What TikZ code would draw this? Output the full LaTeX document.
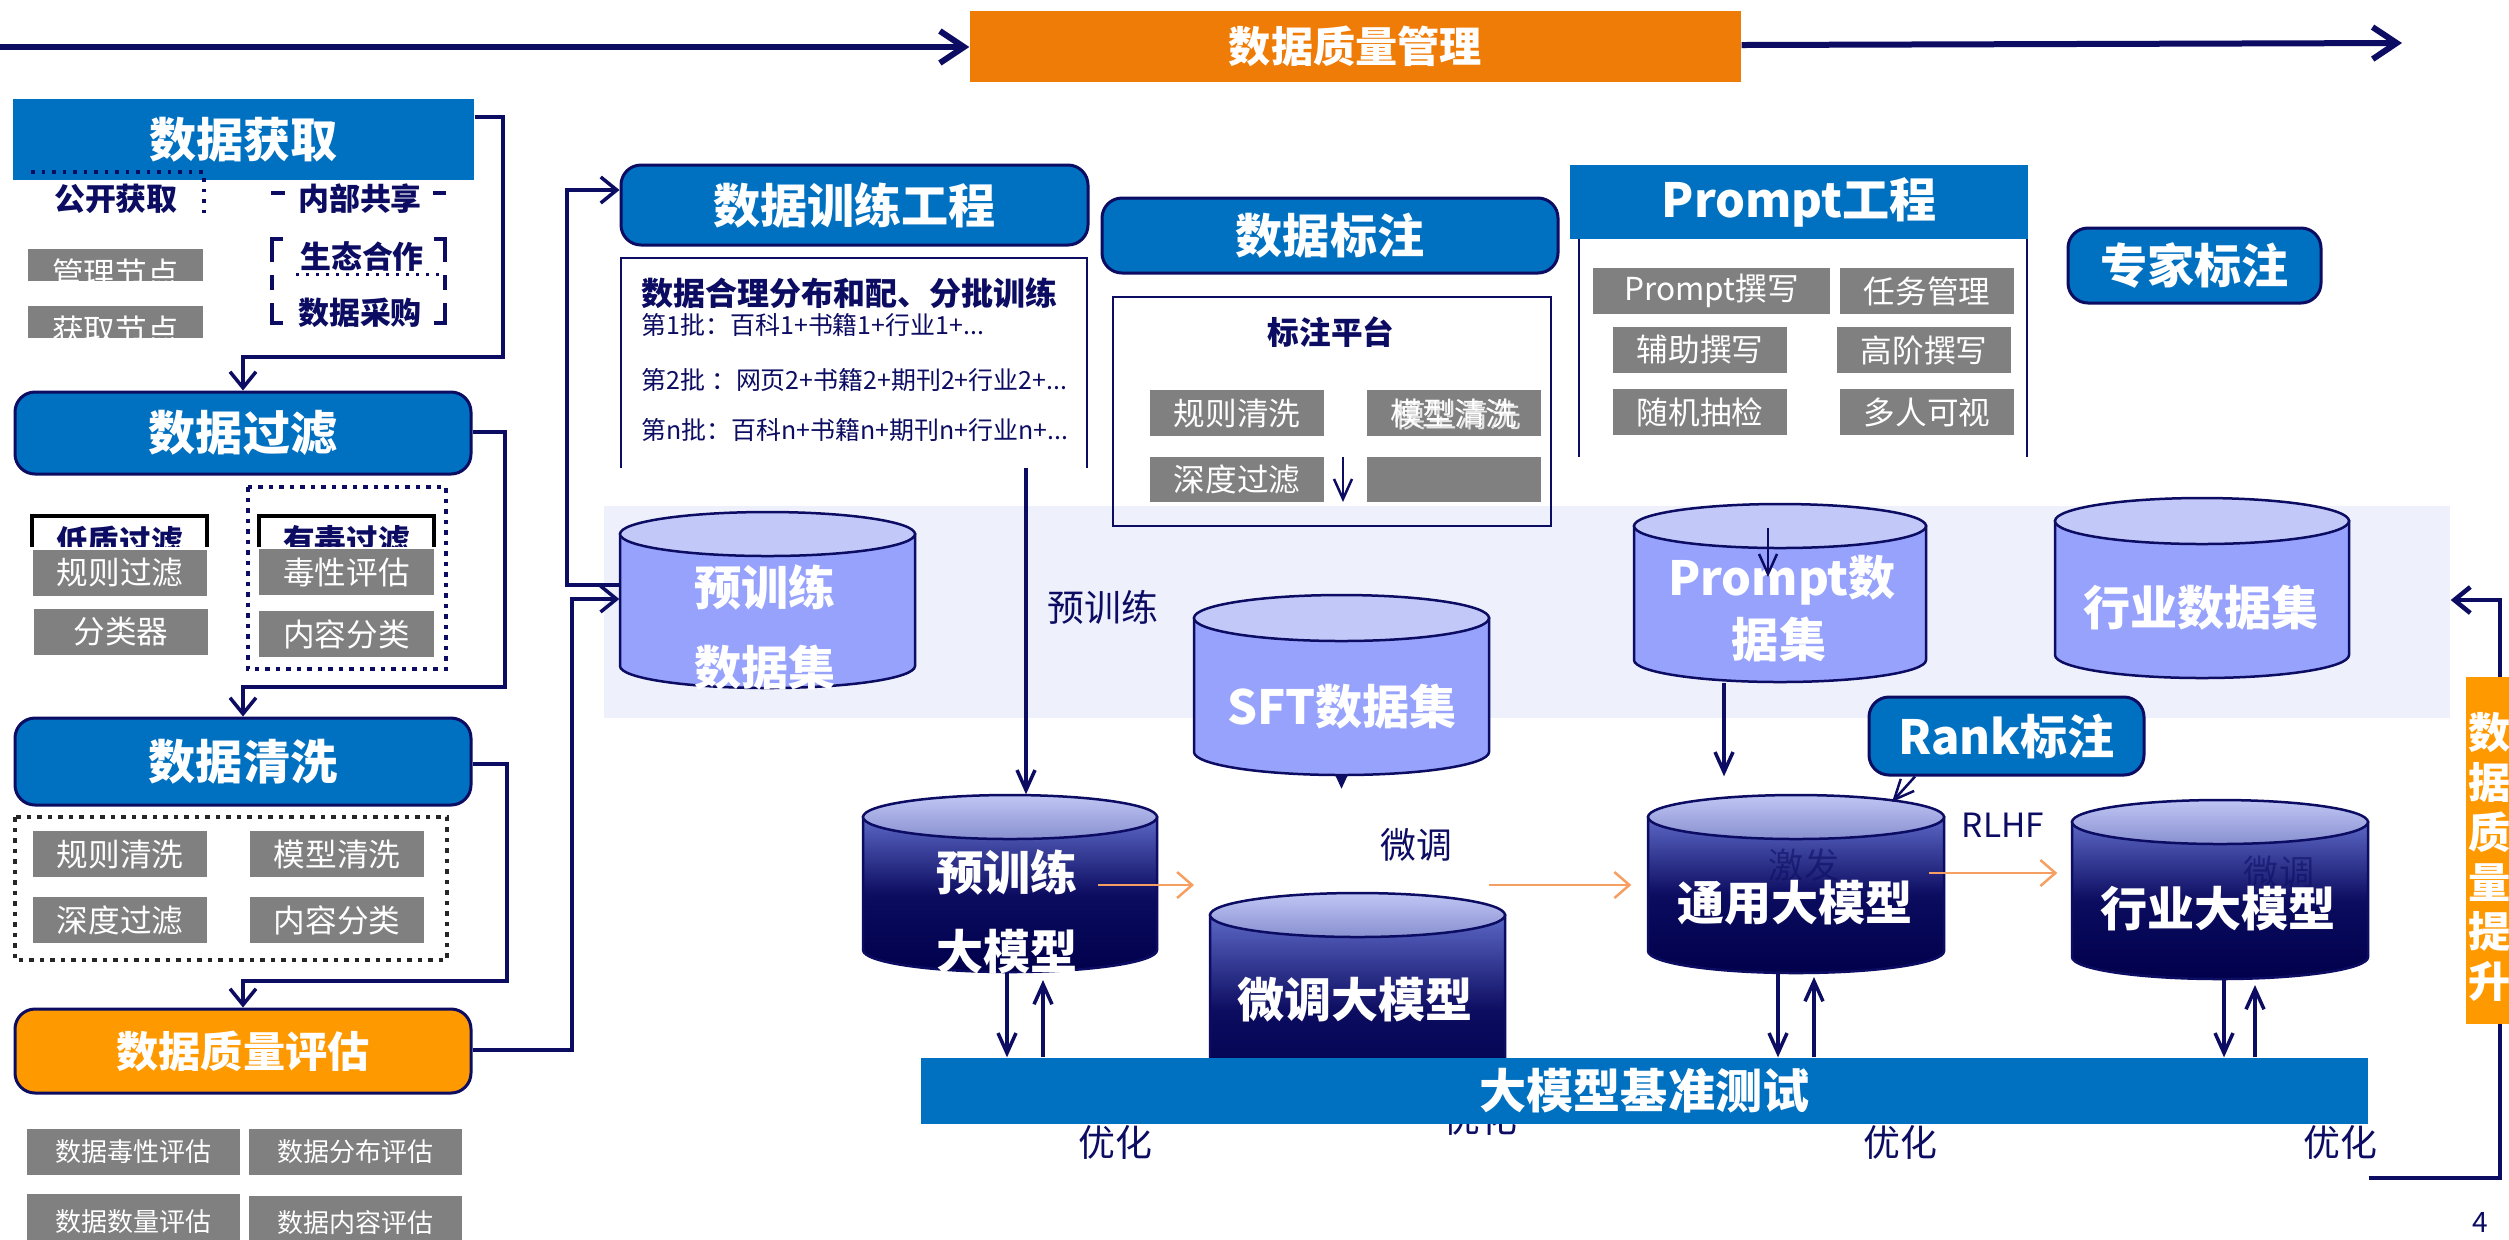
\documentclass[tikz,border=0pt]{standalone}
\usepackage{fontspec}
\setmainfont{Noto Sans CJK SC}
\usetikzlibrary{arrows.meta,fit}
\newcommand{\myfs}[1]{\fontsize{#1}{#1}\selectfont}
\definecolor{bluebox}{HTML}{0070C0}
\definecolor{lnavy}{HTML}{0C0C62}
\definecolor{orgA}{HTML}{F07C08}
\definecolor{orgB}{HTML}{FF9900}
\definecolor{grayb}{HTML}{808080}
\definecolor{bandc}{HTML}{EEF0FC}
\definecolor{cylbody}{HTML}{96A2FC}
\definecolor{cyltop}{HTML}{C2C8F8}
\definecolor{dctop}{HTML}{5C68C6}
\definecolor{dcmid}{HTML}{0C0C60}
\definecolor{dcbot}{HTML}{00004C}
\definecolor{dcellA}{HTML}{C0C6F4}
\definecolor{dcellB}{HTML}{8890D0}
\definecolor{orarr}{HTML}{F5A062}
\newcommand{\cylinderat}[8]{%
  \path[#7] (#2-#3,#4) -- (#2-#3,#5) arc[start angle=180, end angle=360, x radius=#3*0.1mm, y radius=#6*0.1mm] -- (#2+#3,#4) -- cycle;
  \path[#8] (#2,#4) ellipse [x radius=#3*0.1mm, y radius=#6*0.1mm];
  \node[fit={(#2-#3,#4-#6) (#2+#3,#5+#6)}, inner sep=0pt] (#1) {};
}
\begin{document}
\begin{tikzpicture}[x=0.1mm, y=-0.1mm,
  hd/.style={fill=bluebox, inner sep=0pt},
  hdr/.style={hd, draw=lnavy, line width=0.3mm, rounded corners=2mm},
  hl/.style={label={[text=white, font=\bfseries\myfs{13.4pt}, inner sep=0pt]center:#1}},
  ol/.style={label={[text=white, font=\bfseries\myfs{12pt}, inner sep=0pt]center:#1}},
  gbox/.style={fill=grayb, inner sep=0pt},
  gl/.style={label={[text=white, font=\myfs{9pt}, inner sep=0pt]center:#1}},
  gsl/.style={label={[text=white, font=\myfs{7.4pt}, inner sep=0pt]center:#1}},
  bl/.style={label={[text=lnavy, font=\bfseries\myfs{9pt}, inner sep=0pt]center:#1}},
  lbl/.style={text=lnavy, inner sep=0pt},
  conn/.style={draw=lnavy, line width=0.35mm},
  tipA/.style={-{Straight Barb[length=1.6mm,width=2.6mm]}},
  tipC/.style={-{Straight Barb[length=2mm,width=1.8mm]}},
  thinl/.style={draw=lnavy, line width=0.25mm},
  oarr/.style={draw=orarr, line width=0.25mm, -{Straight Barb[length=1.5mm,width=2.6mm]}},
  dotbox/.style={line width=0.45mm, dash pattern=on 0.45mm off 0.6mm},
  lightbody/.style={fill=cylbody, draw=lnavy, line width=0.25mm},
  lighttop/.style={fill=cyltop, draw=lnavy, line width=0.25mm},
  darkbody/.style={top color=dctop, bottom color=dcbot, middle color=dcmid, draw=lnavy, line width=0.25mm},
  darktop/.style={top color=dcellA, bottom color=dcellB, draw=lnavy, line width=0.25mm},
  cyltxt/.style={text=white, font=\bfseries\myfs{13.4pt}, inner sep=0pt},
  faint/.style={text=lnavy, opacity=0.55, font=\myfs{10pt}, inner sep=0pt},
]
\fill[white] (0,0) rectangle (2509,1239);
\useasboundingbox (0,0) rectangle (2509,1239);

% band
\node[fill=bandc, inner sep=0pt, fit={(604,506) (2450,718)}] (band) {};

% top
\node[fill=orgA, inner sep=0pt, fit={(970,11) (1741,82)}, ol={\raisebox{-0.6mm}{数据质量管理}}] (dqm) {};
\coordinate (tstart) at (0,47);
\coordinate (tend) at (2402,43);
\draw[conn, line width=0.6mm, -{Straight Barb[length=2.4mm,width=3.2mm]}] (tstart) -- (dqm.west |- tstart);
\draw[conn, line width=0.6mm, -{Straight Barb[length=2.4mm,width=3.2mm]}] (dqm.east |- 0,45) -- (tend);

% data acquisition
\node[hd, fit={(13,99) (474,180)}, hl={\raisebox{-0.35mm}{数据获取}}] (acq) {};
\draw[lnavy, line width=0.35mm, dotted] (31,172) -- (204,172) -- (204,218);
\node[lbl, font=\bfseries\myfs{8.8pt}] (pub) at (116,199) {公开获取};
\node[lbl, font=\bfseries\myfs{8.8pt}] (share) at (360,199) {内部共享};
\draw[lnavy, line width=0.35mm] (271,193) -- (285,193) (433,193) -- (446,193);
\draw[lnavy, line width=0.35mm] (272,262) -- (272,239) -- (283,239) (434,239) -- (445,239) -- (445,262)
  (272,275) -- (272,290) (445,275) -- (445,290)
  (272,303) -- (272,323) -- (283,323) (434,323) -- (445,323) -- (445,303);
\node[lbl, font=\bfseries\myfs{8.8pt}] (eco) at (362,257) {生态合作};
\draw[lnavy, line width=0.3mm, dotted] (296,274) -- (440,274);
\node[lbl, font=\bfseries\myfs{8.8pt}] (buy) at (360,313) {数据采购};
\begin{scope}
\clip (28,249) rectangle (203,280);
\node[gbox, fit={(28,249) (203,297)}, gl=管理节点] (mgr) {};
\end{scope}
\begin{scope}
\clip (28,306) rectangle (203,337);
\node[gbox, fit={(28,306) (203,354)}, gl=获取节点] (getn) {};
\end{scope}

% filter
\node[hdr, fit={(15,392) (471,474)}, hl={\raisebox{-0.5mm}{数据过滤}}] (filt) {};
\draw[conn, tipA] (acq.east |- 0,117) -- (503,117) -- (503,357) -| (filt.north);
\begin{scope}
\clip (25,510) rectangle (215,546);
\node[draw=black, line width=0.35mm, inner sep=0pt, fit={(32,516) (207,566)}, bl=低质过滤] (lowq) {};
\end{scope}
\begin{scope}
\clip (250,510) rectangle (440,546);
\node[draw=black, line width=0.35mm, inner sep=0pt, fit={(259,516) (434,566)}, bl=有毒过滤] (toxq) {};
\end{scope}
\node[gbox, fit={(33,550) (207,596)}, gl=规则过滤] (f1) {};
\node[gbox, fit={(34,609) (208,655)}, gl=分类器] (f2) {};
\node[gbox, fit={(259,549) (434,595)}, gl=毒性评估] (f3) {};
\node[gbox, fit={(259,611) (434,657)}, gl=内容分类] (f4) {};
\draw[lnavy, dotbox] (248,487) rectangle (446,669);

% cleaning
\node[hdr, fit={(15,718) (471,805)}, hl={\raisebox{-0.8mm}{数据清洗}}] (clean) {};
\draw[conn, tipA] (filt.east |- 0,432) -- (505,432) -- (505,687) -| (clean.north);
\draw[black!85, dotbox] (15,817) rectangle (447,960);
\node[gbox, fit={(33,831) (207,877)}, gl=规则清洗] (c1) {};
\node[gbox, fit={(250,831) (424,877)}, gl=模型清洗] (c2) {};
\node[gbox, fit={(33,897) (207,943)}, gl=深度过滤] (c3) {};
\node[gbox, fit={(250,897) (424,943)}, gl=内容分类] (c4) {};

% quality evaluation
\node[hdr, fill=orgB, fit={(15,1009) (471,1093)}, ol={\raisebox{-0.5mm}{数据质量评估}}] (qeval) {};
\draw[conn, tipA] (clean.east |- 0,764) -- (507,764) -- (507,981) -| (qeval.north);
\node[gbox, fit={(27,1129) (240,1175)}, gsl=数据毒性评估] (e1) {};
\node[gbox, fit={(249,1129) (462,1175)}, gsl=数据分布评估] (e2) {};
\node[gbox, fit={(27,1194) (240,1250)}, gsl=数据数量评估] (e3) {};
\node[gbox, fit={(249,1196) (462,1250)}, gsl=数据内容评估] (e4) {};

% training engineering
\node[hdr, fit={(621,165) (1088,245)}, hl=数据训练工程] (train) {};
\draw[thinl] (621,468) -- (621,258) -- (1087,258) -- (1087,468);
\node[lbl, anchor=west, font=\bfseries\myfs{9.1pt}] (tt) at (641,293) {数据合理分布和配、分批训练};
\node[lbl, anchor=west, font=\myfs{7.1pt}] (b1) at (641,325) {第1批：百科1+书籍1+行业1+...};
\node[lbl, anchor=west, font=\myfs{7.1pt}] (b2) at (641,380) {第2批 ：网页2+书籍2+期刊2+行业2+...};
\node[lbl, anchor=west, font=\myfs{7.1pt}] (bn) at (641,430) {第n批：百科n+书籍n+期刊n+行业n+...};

% annotation
\node[hdr, fit={(1102,198) (1558,273)}, hl={\raisebox{-0.4mm}{数据标注}}] (anno) {};
\node[draw=lnavy, line width=0.25mm, inner sep=0pt, fit={(1113,297) (1551,526)}] (plat) {};
\node[lbl, font=\bfseries\myfs{9pt}] (platt) at (1331,332) {标注平台};
\node[gbox, fit={(1150,390) (1324,436)}, gl=规则清洗] (pa1) {};
\node[gbox, fit={(1367,390) (1541,436)}, gl=模型清洗] (pa2) {};
\node[text=white, font=\myfs{9pt}, inner sep=0pt, opacity=0.8] (pa2b) at ([xshift=0.35mm,yshift=-0.25mm]pa2.center) {模型清洗};
\node[gbox, fit={(1150,457) (1324,502)}, gl=深度过滤] (pa3) {};
\node[gbox, fit={(1367,457) (1541,502)}] (pa4) {};
\coordinate (sa1) at (1343,457);
\coordinate (sa2) at (1343,502);
\draw[thinl, tipC] (sa1) -- (sa2);

% prompt engineering
\node[hd, fit={(1570,165) (2028,239)}, hl=Prompt工程] (pe) {};
\draw[thinl] (1579,239) -- (1579,457) (2027,239) -- (2027,457);
\node[gbox, fit={(1593,268) (1830,314)}, gl=Prompt撰写] (p1) {};
\node[gbox, fit={(1840,268) (2014,314)}, gl=任务管理] (p2) {};
\node[gbox, fit={(1613,327) (1787,373)}, gl=辅助撰写] (p3) {};
\node[gbox, fit={(1837,327) (2011,373)}, gl=高阶撰写] (p4) {};
\node[gbox, fit={(1613,389) (1787,435)}, gl=随机抽检] (p5) {};
\node[gbox, fit={(1840,389) (2014,435)}, gl=多人可视] (p6) {};

\node[hdr, fit={(2068,228) (2321,303)}, hl={\raisebox{-0.4mm}{专家标注}}] (expert) {};

% light cylinders
\cylinderat{pds}{767.5}{147.5}{534}{666}{22}{lightbody}{lighttop}
\node[cyltxt] (pdsa) at (765,587) {预训练};
\node[cyltxt] (pdsb) at (765,668) {数据集};
\cylinderat{sds}{1341.5}{147.5}{618}{752}{23}{lightbody}{lighttop}
\node[cyltxt] (sdst) at (1342,707) {SFT数据集};
\fill[lnavy] ([xshift=-0.6mm]sds.south) -- ([xshift=0.6mm]sds.south) -- ([yshift=-1.3mm]sds.south) -- cycle;
\cylinderat{prds}{1780}{146}{526}{660}{22}{lightbody}{lighttop}
\node[cyltxt] (prdsa) at (1782,580) {Prompt数};
\node[cyltxt] (prdsb) at (1779,640) {据集};
\cylinderat{ids}{2202}{147}{521}{655}{23}{lightbody}{lighttop}
\node[cyltxt] (idst) at (2201,608) {行业数据集};
\coordinate (pa) at (1768,528);
\coordinate (pb) at (1768,577);
\draw[thinl, tipC] (pa) -- (pb);

% left loop connectors
\draw[conn, tipA] (qeval.east |- 0,1050) -- (572,1050) -- (572,599) -- (pds.west |- 0,599);
\draw[conn, tipA] (pds.west |- 0,585) -- (567,585) -- (567,190) -- (train.west |- 0,190);

\node[lbl, font=\myfs{10.5pt}] (ptl) at (1103,607) {预训练};

% optimisation labels (behind bar)
\node[lbl, font=\myfs{10.5pt}] (o1) at (1115,1142) {优化};
\node[lbl, font=\myfs{10.5pt}] (o2) at (1480,1118) {优化};
\node[lbl, font=\myfs{10.5pt}] (o3) at (1900,1142) {优化};
\node[lbl, font=\myfs{10.5pt}] (o4) at (2340,1142) {优化};

% dark cylinders
\cylinderat{pm}{1010}{147}{817}{950}{22}{darkbody}{darktop}
\cylinderat{ftm}{1357.5}{147.5}{915}{1085}{22}{darkbody}{darktop}
\cylinderat{gm}{1796}{148}{817}{951}{22}{darkbody}{darktop}
\cylinderat{im}{2220}{148}{822}{957}{22}{darkbody}{darktop}
\node[cyltxt] (pma) at (1007,872) {预训练};
\node[cyltxt] (pmb) at (1007,952) {大模型};
\node[cyltxt] (ftmt) at (1355,1000) {微调大模型};
\node[faint] (gmf) at (1804,865) {激发};
\node[cyltxt] (gmt) at (1795,903) {通用大模型};
\node[faint] (imf) at (2279,872) {微调};
\node[cyltxt] (imt) at (2218,909) {行业大模型};

\draw[conn, tipC] (1026,468) -- (pm.north -| 1026,0);

\node[lbl, font=\myfs{10.2pt}] (ftl) at (1416,845) {微调};
\node[lbl, font=\myfs{9.5pt}] (rlhf) at (2003,825) {RLHF};

% orange arrows
\coordinate (o1a) at (1098,885);
\coordinate (o1b) at (1194,885);
\draw[oarr] (o1a) -- (o1b);
\coordinate (o2a) at (1489,885);
\draw[oarr, shorten >=1.6mm] (o2a) -- (gm.west |- o2a);
\coordinate (o3a) at (1929,873);
\draw[oarr, shorten >=1.4mm] (o3a) -- (im.west |- o3a);

% rank annotation
\node[hdr, fit={(1869,697) (2144,775)}, hl={\raisebox{-0.4mm}{Rank标注}}] (rank) {};
\coordinate (rk) at (1892,802);
\draw[conn, line width=0.25mm, tipC] (rank.south -| 1915,0) -- (rk);
\draw[conn, tipC, shorten >=1.8mm] (prds.south -| 1724,0) -- (gm.north -| 1724,0);

% benchmark bar
\node[fill=bluebox, inner sep=0pt, fit={(921,1058) (2368,1124)}, hl={\raisebox{-0.5mm}{大模型基准测试}}] (bench) {};
\draw[conn, tipC] (pm.south -| 1007,0) -- (bench.north -| 1007,0);
\draw[conn, tipC] (bench.north -| 1043,0) -- (1043,980);
\draw[conn, tipC] (gm.south -| 1778,0) -- (bench.north -| 1778,0);
\draw[conn, tipC] (bench.north -| 1814,0) -- (1814,977);
\draw[conn, tipC] (im.south -| 2224,0) -- (bench.north -| 2224,0);
\draw[conn, tipC] (bench.north -| 2255,0) -- (2255,985);

% right feedback
\draw[conn, line width=0.45mm, tipA] (bench.east |- 0,1178) -- (2500,1178) -- (2500,600) -- (band.east |- 0,600);
\node[fill=orgB, inner sep=0pt, fit={(2466,677) (2520,1024)}] (dqi) {};
\node[text=white, font=\bfseries\fontsize{12pt}{14.2pt}\selectfont, align=center, inner sep=0pt] (dqit) at (2490,857) {数\\据\\质\\量\\提\\升};

\node[lbl, font=\myfs{8pt}] (pg) at (2480,1222) {4};
\end{tikzpicture}
\end{document}
